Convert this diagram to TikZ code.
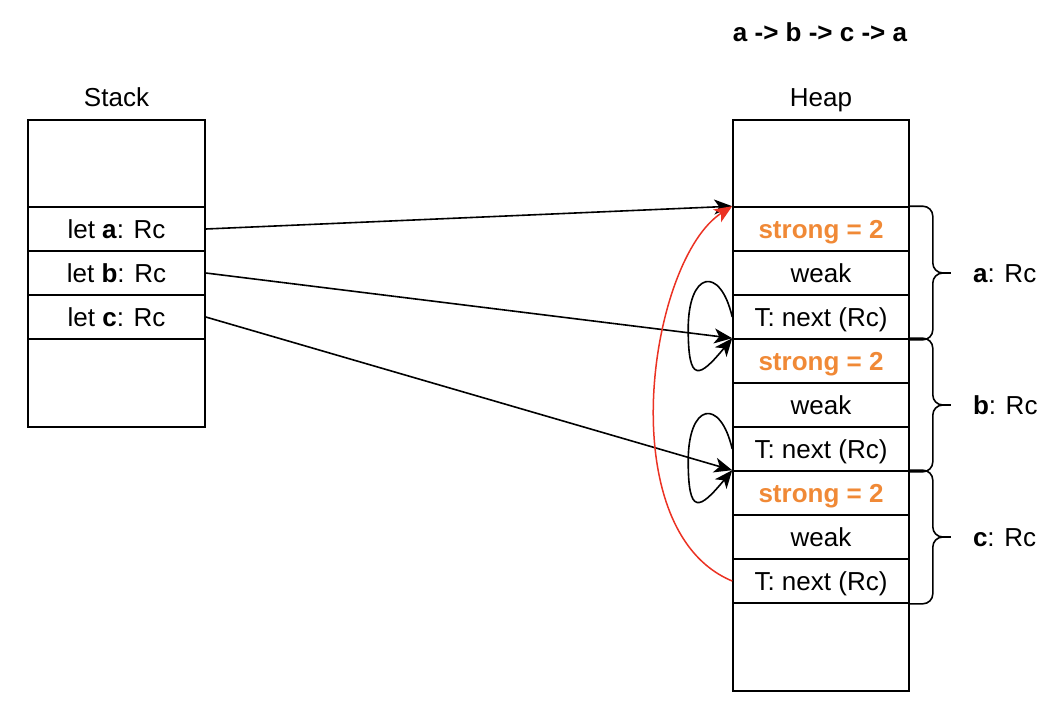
\documentclass[tikz,border=0pt]{standalone}
\usepackage{fontspec}
\setmainfont{Liberation Sans}
\usepackage{tikz}
\usetikzlibrary{calc}
\usetikzlibrary{positioning}
\usetikzlibrary{arrows.meta}

\definecolor{strongcol}{RGB}{240,137,54}
\definecolor{cyclecol}{RGB}{235,50,35}

\tikzset{
  txt/.style={font=\fontsize{26}{30}\selectfont, text height=21pt, text depth=2.5pt},
  cell/.style={txt, draw, line width=1.6pt, inner sep=0pt, minimum height=44pt},
  stackcell/.style={cell, minimum width=177pt},
  heapcell/.style={cell, minimum width=176pt},
  strongtxt/.style={text=strongcol, font=\fontsize{26}{30}\selectfont\bfseries},
  ptr/.style={-{Stealth[length=18pt,width=15pt,inset=5pt]}, line width=1.6pt},
  brc/.style={line width=1.6pt, rounded corners=10pt},
}

\begin{document}
\begin{tikzpicture}[x=1pt, y=-1pt]

\useasboundingbox (0,0) rectangle (1056,712);

% titles
\node[txt, font=\fontsize{26}{30}\selectfont\bfseries] (title) at (820,32) {a -> b -> c -> a};
\node[txt] (stacklbl) at (116.5,97) {Stack};
\node[txt] (heaplbl) at (821,97) {Heap};

% stack rectangle
\node[stackcell, minimum height=87pt] (lettop) at (116.5,163.5) {};
\node[stackcell] (leta) at (116.5,229) {let \textbf{a}: Rc};
\node[stackcell] (letb) at (116.5,273) {let \textbf{b}: Rc};
\node[stackcell] (letc) at (116.5,317) {let \textbf{c}: Rc};
\node[stackcell, minimum height=88pt] (letbot) at (116.5,383) {};

% heap rectangle
\node[heapcell, minimum height=87pt] (heaptop) at (821,163.5) {};
\node[heapcell, strongtxt] (stra) at (821,229) {strong = 2};
\node[heapcell] (weaka) at (821,273) {weak};
\node[heapcell] (nexta) at (821,317) {T: next (Rc)};
\node[heapcell, strongtxt] (strb) at (821,361) {strong = 2};
\node[heapcell] (weakb) at (821,405) {weak};
\node[heapcell] (nextb) at (821,449) {T: next (Rc)};
\node[heapcell, strongtxt] (strc) at (821,493) {strong = 2};
\node[heapcell] (weakc) at (821,537) {weak};
\node[heapcell] (nextc) at (821,581) {T: next (Rc)};
\node[heapcell, minimum height=88pt] (heapbot) at (821,647) {};

% braces: a, b, c
\draw[brc] (stra.north east) -| ($(weaka.east)+(23,0)$) -- ++(18,0) coordinate (tipa);
\draw[brc] (tipa) -- ++(-18,0) |- (nexta.south east);
\node[txt, anchor=west, inner sep=0pt] (laba) at ($(tipa)+(22,0)$) {\textbf{a}: Rc};

\draw[brc] (strb.north east) -| ($(weakb.east)+(23,0)$) -- ++(18,0) coordinate (tipb);
\draw[brc] (tipb) -- ++(-18,0) |- (nextb.south east);
\node[txt, anchor=west, inner sep=0pt] (labb) at ($(tipb)+(22,0)$) {\textbf{b}: Rc};

\draw[brc] (strc.north east) -| ($(weakc.east)+(23,0)$) -- ++(18,0) coordinate (tipc);
\draw[brc] (tipc) -- ++(-18,0) |- (nextc.south east);
\node[txt, anchor=west, inner sep=0pt] (labc) at ($(tipc)+(22,0)$) {\textbf{c}: Rc};

% stack -> heap
\draw[ptr] (leta.east) -- (stra.north west);
\draw[ptr] (letb.east) -- (strb.north west);
\draw[ptr] (letc.east) -- (strc.north west);

% next pointers (loops)
\draw[ptr] (nexta.west) .. controls +(-12,-52) and +(0,-58) .. ($(nexta.west)+(-44,12)$)
  .. controls +(0,55) and +(-33,40) .. (strb.north west);
\draw[ptr] (nextb.west) .. controls +(-12,-52) and +(0,-58) .. ($(nextb.west)+(-44,12)$)
  .. controls +(0,55) and +(-33,40) .. (strc.north west);

% c -> a closes the cycle
\draw[ptr, cyclecol, line width=1.5pt] (nextc.west) .. controls +(-123,-51) and +(-83,53) .. (stra.north west);

\end{tikzpicture}
\end{document}
